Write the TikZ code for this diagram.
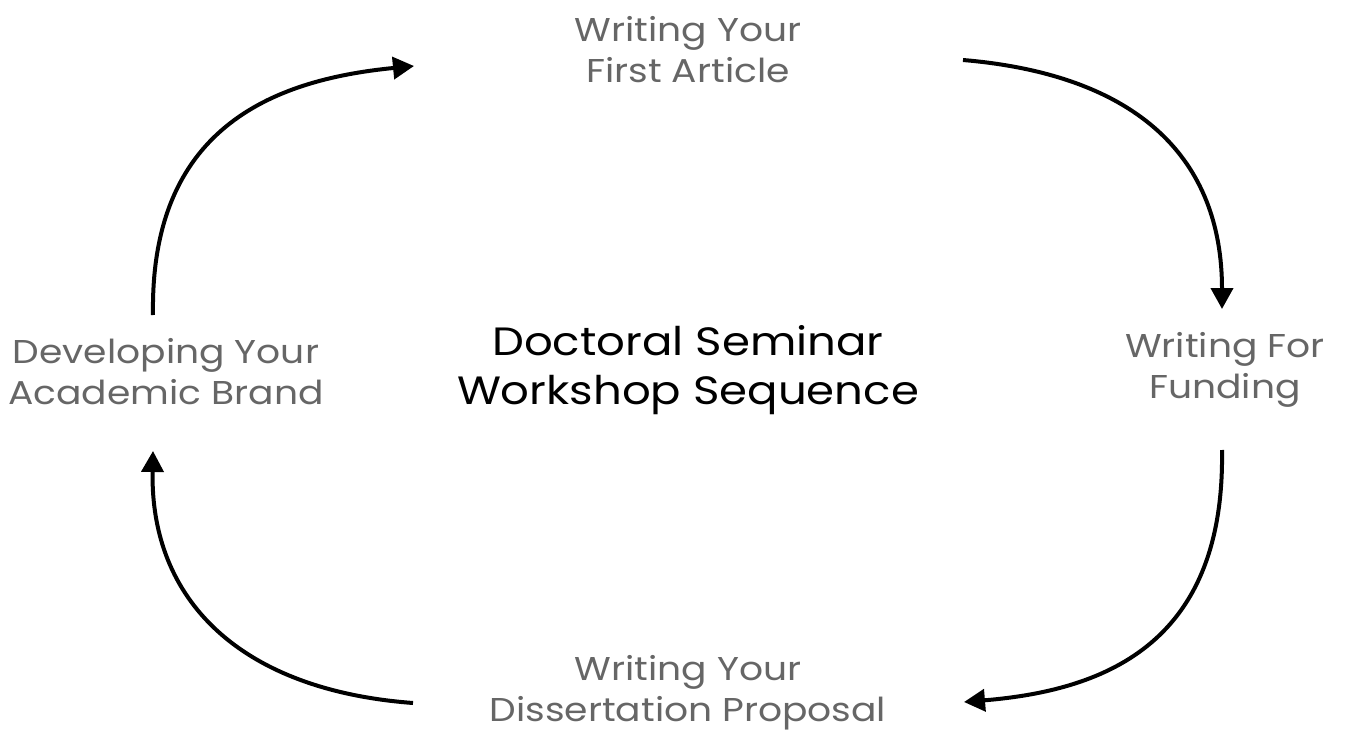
\documentclass[tikz,border=0pt]{standalone}
\usepackage{fontspec}
\setmainfont{Poppins}[FakeStretch=1.14]
\usetikzlibrary{arrows.meta}
\definecolor{lbl}{HTML}{666666}
\begin{document}
\begin{tikzpicture}[x=1pt,y=-1pt,
  lab/.style={align=center,text=lbl,font=\fontsize{33}{41}\selectfont,inner sep=0pt},
  ttl/.style={align=center,text=black,font=\fontsize{39.5}{49}\selectfont,inner sep=0pt},
  arr/.style={line width=4pt,-{Triangle[length=21pt,width=22pt]}}]
\useasboundingbox (0,0) rectangle (1345,736);
\node[ttl] (center) at (688,370) {Doctoral Seminar\\Workshop Sequence};
\node[lab] (top) at (688,50) {Writing Your\\First Article};
\node[lab] (right) at (1225,370) {Writing For\\Funding};
\node[lab] (bottom) at (688,693) {Writing Your\\Dissertation Proposal};
\node[lab] (left) at (166,372) {Developing Your\\Academic Brand};
\coordinate (a1s) at (153,315);
\coordinate (a1e) at (414,66);
\coordinate (a2s) at (963,60);
\coordinate (a2e) at (1222,309);
\coordinate (a3s) at (1222,450);
\coordinate (a3e) at (964,702);
\coordinate (a4s) at (413,703);
\coordinate (a4e) at (153,451);
\draw[arr] (a1s) .. controls (150,130) and (270,80) .. (a1e);
\draw[arr] (a2s) .. controls (1140,75) and (1222,160) .. (a2e);
\draw[arr] (a3s) .. controls (1225,640) and (1110,690) .. (a3e);
\draw[arr] (a4s) .. controls (240,690) and (150,600) .. (a4e);
\end{tikzpicture}
\end{document}
